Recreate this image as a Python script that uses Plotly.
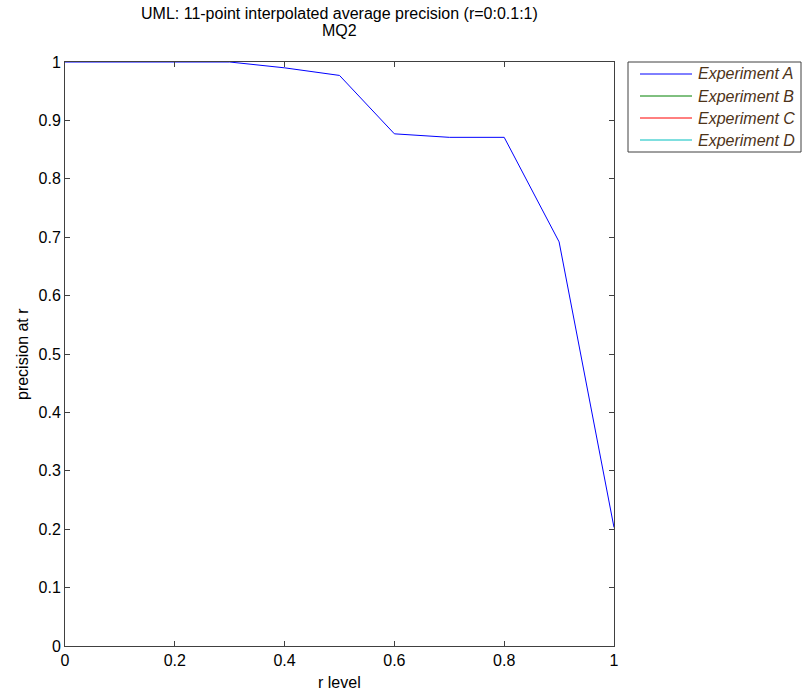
import plotly.graph_objects as go

r_levels = [0, 0.1, 0.2, 0.3, 0.4, 0.5, 0.6, 0.7, 0.8, 0.9, 1.0]
exp_a = [1.0, 1.0, 1.0, 1.0, 0.990, 0.977, 0.877, 0.871, 0.871, 0.692, 0.203]
exp_b = [None] * 11
exp_c = [None] * 11
exp_d = [None] * 11
series_names = ["Experiment A", "Experiment B", "Experiment C", "Experiment D"]
series_colors = ["#0000ff", "#008000", "#ff0000", "#00bfbf"]
x_ticks = [0, 0.2, 0.4, 0.6, 0.8, 1]
y_ticks = [0, 0.1, 0.2, 0.3, 0.4, 0.5, 0.6, 0.7, 0.8, 0.9, 1]

FONT = "Liberation Sans, Arial, sans-serif"

fig = go.Figure()
for name, vals, col in zip(series_names, [exp_a, exp_b, exp_c, exp_d], series_colors):
    fig.add_trace(go.Scatter(
        x=r_levels, y=vals, mode="lines", name=name,
        line=dict(color=col, width=1), showlegend=False,
    ))

axis_common = dict(
    showline=True, linecolor="#404040", linewidth=1, mirror="ticks",
    ticks="inside", ticklen=5, tickcolor="#404040", showgrid=False, zeroline=False,
    layer="above traces", automargin=False,
    tickfont=dict(family=FONT, size=16, color="#000000"),
)

PLOT_H = 584.0
PLOT_W = 549.0

def py(ypix):
    return (646 - ypix) / PLOT_H

def px(xpix):
    return (xpix - 65) / PLOT_W

annotations = [
    dict(text="UML: 11-point interpolated average precision (r=0:0.1:1)", xref="paper", yref="paper",
         x=0.5, y=py(14), xanchor="center", yanchor="middle", showarrow=False,
         font=dict(family=FONT, size=16, color="#000")),
    dict(text="MQ2", xref="paper", yref="paper",
         x=0.5, y=py(31), xanchor="center", yanchor="middle", showarrow=False,
         font=dict(family=FONT, size=16, color="#000")),
    dict(text="r level", xref="paper", yref="paper",
         x=0.5, y=py(682), xanchor="center", yanchor="middle", showarrow=False,
         font=dict(family=FONT, size=16, color="#000")),
    dict(text="precision at r", xref="paper", yref="paper", textangle=-90,
         x=px(22), y=0.5, xanchor="center", yanchor="middle", showarrow=False,
         font=dict(family=FONT, size=16, color="#000")),
]

# manual legend box (MATLAB style)
shapes = [dict(type="rect", xref="paper", yref="paper",
               x0=px(628), x1=px(801), y0=py(152), y1=py(62),
               line=dict(color="#404040", width=1), fillcolor="white", layer="above")]
row_y = [74, 96, 118, 140]
for name, col, ry in zip(series_names, series_colors, row_y):
    shapes.append(dict(type="line", xref="paper", yref="paper",
                       x0=px(640), x1=px(692), y0=py(ry), y1=py(ry),
                       line=dict(color=col, width=1), layer="above"))
    annotations.append(dict(text="<i>" + name + "</i>", xref="paper", yref="paper",
                            x=px(696), y=py(ry), xanchor="left", yanchor="middle",
                            showarrow=False,
                            font=dict(family=FONT, size=16, color="#4d3319")))

fig.update_layout(
    width=802, height=695,
    margin=dict(l=65, r=188, t=62, b=49, autoexpand=False),
    paper_bgcolor="white", plot_bgcolor="white",
    xaxis=dict(range=[0, 1], tickvals=x_ticks, ticktext=[f"{v:g}" for v in x_ticks], **axis_common),
    yaxis=dict(range=[0, 1], tickvals=y_ticks, ticktext=[f"{v:g}" for v in y_ticks], **axis_common),
    showlegend=False,
    annotations=annotations,
    shapes=shapes,
)

fig.write_html(
    "out.html",
    config={"displayModeBar": False},
    post_script="document.body.style.margin='0';document.body.style.overflow='hidden';",
)
